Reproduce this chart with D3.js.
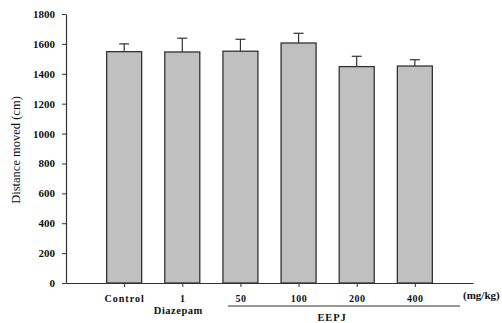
<!DOCTYPE html>
<html>
<head>
<meta charset="utf-8">
<script src="https://cdn.jsdelivr.net/npm/d3@7"></script>
<style>
  html, body { margin: 0; padding: 0; background: #fff; }
  svg text { font-family: "Liberation Serif", "Times New Roman", serif !important; }
</style>
</head>
<body>
<svg id="chart" width="502" height="323"></svg>
<script>
// Locomotor activity per treatment group (mean ± SEM)
const groups = ["Control", "1", "50", "100", "200", "400"];
const distance = [1548, 1546, 1551, 1606, 1448, 1452];
const sem = [52, 92, 80, 65, 69, 42];
const yTicks = [0, 200, 400, 600, 800, 1000, 1200, 1400, 1600, 1800];

const svg = d3.select("#chart");
const x0 = 66, x1 = 473, yTop = 14, yBottom = 283;

const x = d3.scalePoint().domain(groups).range([x0, x1]).padding(1);
const y = d3.scaleLinear().domain([0, 1800]).range([yBottom, yTop]);
const barW = 35;

// y axis
const yAxis = svg.append("g")
  .attr("transform", `translate(${x0},0)`)
  .call(d3.axisLeft(y).tickValues(yTicks).tickFormat(d3.format("d"))
    .tickSize(4).tickPadding(7).tickSizeOuter(0));
yAxis.attr("font-family", null);
yAxis.select(".domain").attr("stroke", "#333").attr("stroke-width", 1.2);
yAxis.selectAll(".tick line").attr("stroke", "#333");
yAxis.selectAll("text").attr("font-size", 11).attr("font-weight", "bold").attr("fill", "#111");

// bars
svg.append("g").selectAll("rect")
  .data(groups)
  .join("rect")
  .attr("x", (d) => x(d) - barW / 2)
  .attr("y", (d, i) => y(distance[i]))
  .attr("width", barW)
  .attr("height", (d, i) => yBottom - y(distance[i]))
  .attr("fill", "#c0c0c0")
  .attr("stroke", "#333")
  .attr("stroke-width", 1.3);

// error bars (upper only)
const err = svg.append("g").attr("stroke", "#333").attr("stroke-width", 1.2);
groups.forEach((g, i) => {
  const cx = x(g);
  err.append("line").attr("x1", cx).attr("x2", cx)
    .attr("y1", y(distance[i])).attr("y2", y(distance[i] + sem[i]));
  err.append("line").attr("x1", cx - 5).attr("x2", cx + 5)
    .attr("y1", y(distance[i] + sem[i])).attr("y2", y(distance[i] + sem[i]));
});

// x axis
const xAxis = svg.append("g")
  .attr("transform", `translate(0,${yBottom})`)
  .call(d3.axisBottom(x).tickSize(4).tickPadding(8).tickSizeOuter(0));
xAxis.attr("font-family", null);
xAxis.select(".domain").attr("stroke", "#333").attr("stroke-width", 1.2);
xAxis.selectAll(".tick line").attr("stroke", "#333");
xAxis.selectAll("text").attr("font-size", 10).attr("font-weight", "bold").attr("fill", "#111")
  .attr("letter-spacing", (d) => d === "Control" ? 1 : 0.5);

// unit label
svg.append("text").attr("x", 463).attr("y", 299)
  .attr("font-size", 11).attr("font-weight", "bold").attr("fill", "#111")
  .text("(mg/kg)");

// group labels
svg.append("text").attr("x", x("1") - 4).attr("y", 314)
  .attr("text-anchor", "middle").attr("font-size", 10.5).attr("font-weight", "bold")
  .attr("fill", "#111").attr("letter-spacing", 0.5)
  .text("Diazepam");

svg.append("line").attr("x1", 228).attr("x2", 460).attr("y1", 306).attr("y2", 306)
  .attr("stroke", "#333").attr("stroke-width", 1.2);

svg.append("text").attr("x", 332).attr("y", 321)
  .attr("text-anchor", "middle").attr("font-size", 10.5).attr("font-weight", "bold")
  .attr("fill", "#111").attr("letter-spacing", 0.8)
  .text("EEPJ");

// y axis title
svg.append("text")
  .attr("transform", "translate(20,150) rotate(-90)")
  .attr("text-anchor", "middle").attr("font-size", 12.5).attr("fill", "#111")
  .text("Distance moved (cm)");
</script>
</body>
</html>
